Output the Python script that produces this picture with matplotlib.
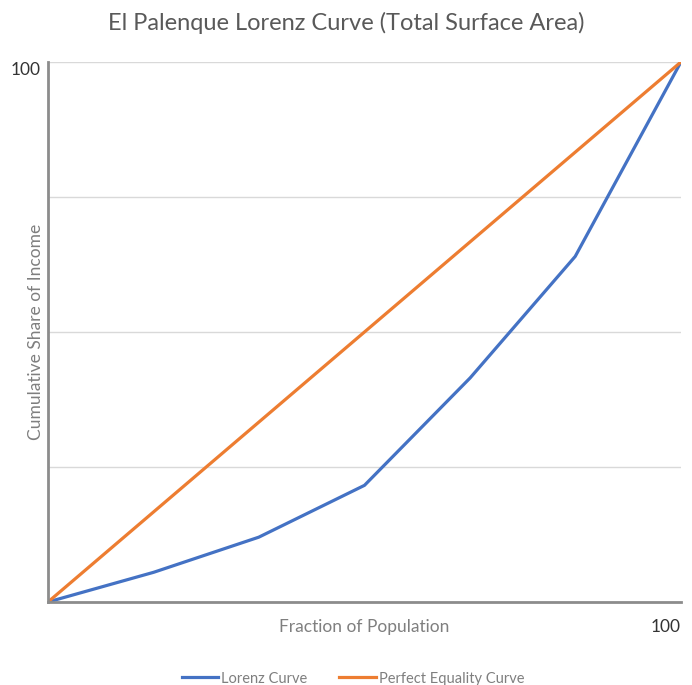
import matplotlib.pyplot as plt

# Lorenz curve data (percent)
population = [0, 16.7, 33.3, 50, 66.7, 83.3, 100]
lorenz = [0, 5.5, 12.0, 21.6, 41.5, 64.0, 100]
equality = [0, 16.7, 33.3, 50, 66.7, 83.3, 100]

plt.rcParams['font.family'] = ['Lato', 'DejaVu Sans']

fig = plt.figure(figsize=(6.92, 6.85), dpi=100)
ax = fig.add_axes([0.0694, 0.1212, 0.9146, 0.7883])

ax.plot(population, lorenz, color='#4472C4', lw=2.3, label='Lorenz Curve')
ax.plot(population, equality, color='#ED7D31', lw=2.3, label='Perfect Equality Curve')

ax.set_xlim(0, 100)
ax.set_ylim(0, 100)

ax.set_yticks([0, 25, 50, 75, 100])
ax.set_yticklabels(['', '', '', '', '100'], va='top')
ax.set_xticks([100])
ax.set_xticklabels(['100'], ha='right')
ax.tick_params(length=0, labelsize=12.5, colors='#333333')
ax.tick_params(axis='x', pad=12)
ax.tick_params(axis='y', pad=5)
ax.grid(axis='y', color='#d9d9d9', lw=1)
ax.set_axisbelow(True)

for s in ['top', 'right']:
    ax.spines[s].set_visible(False)
for s in ['left', 'bottom']:
    ax.spines[s].set_color('#8c8c8c')
    ax.spines[s].set_linewidth(2)

ax.set_xlabel('Fraction of Population', fontsize=12.5, color='#7f7f7f', labelpad=-11)
ax.set_ylabel('Cumulative Share of Income', fontsize=12.5, color='#7f7f7f', labelpad=-24)

fig.suptitle('El Palenque Lorenz Curve (Total Surface Area)', fontsize=17,
             color='#595959', y=0.982)

fig.legend(loc='lower center', ncol=2, frameon=False, fontsize=10.5,
           bbox_to_anchor=(0.51, -0.02), handlelength=2.5, handletextpad=0.2,
           columnspacing=2.2, labelcolor='#7f7f7f')

fig.savefig('out.png', dpi=100)
